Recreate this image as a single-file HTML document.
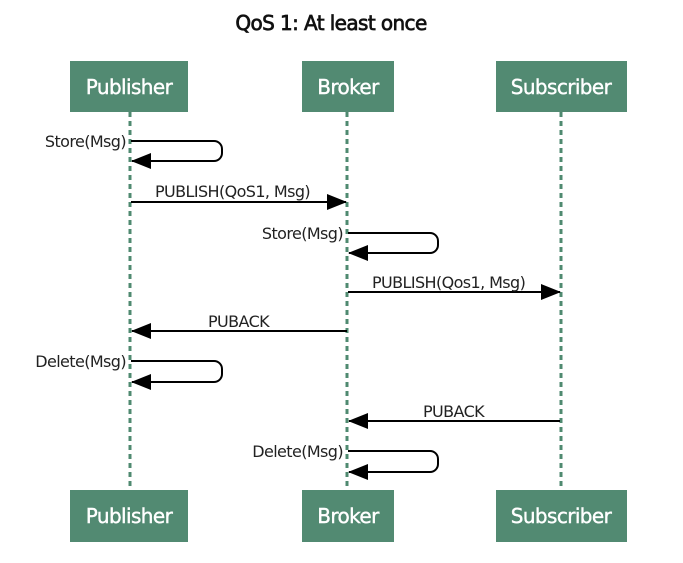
<!DOCTYPE html>
<html><head><style>body{margin:0;background:#fff}</style></head><body>
<svg width="683" height="558" xmlns="http://www.w3.org/2000/svg" font-family="DejaVu Sans, Liberation Sans, sans-serif">
<defs><marker id="a" markerWidth="20" markerHeight="16" refX="19" refY="8" orient="auto" markerUnits="userSpaceOnUse"><path d="M0,0 L20,8 L0,16 z" fill="#000"/></marker></defs>
<text x="331" y="30" font-size="20" text-anchor="middle" fill="#111" stroke="#111" stroke-width="0.7" letter-spacing="-0.6">QoS 1: At least once</text>
<g stroke="#4f8a70" stroke-width="3" stroke-dasharray="5,4">
<line x1="130" y1="112" x2="130" y2="490"/><line x1="347" y1="112" x2="347" y2="490"/><line x1="561" y1="112" x2="561" y2="490"/></g>
<g fill="#528a72">
<rect x="70" y="61" width="118" height="51"/><rect x="302" y="61" width="92" height="51"/><rect x="496" y="61" width="131" height="51"/>
<rect x="70" y="490" width="118" height="52"/><rect x="302" y="490" width="92" height="52"/><rect x="496" y="490" width="131" height="52"/></g>
<g fill="#fff" font-size="20" text-anchor="middle" letter-spacing="-0.6" stroke="#fff" stroke-width="0.4">
<text x="129" y="94">Publisher</text><text x="348" y="94">Broker</text><text x="561" y="94">Subscriber</text>
<text x="129" y="523">Publisher</text><text x="348" y="523">Broker</text><text x="561" y="523">Subscriber</text></g>
<g stroke="#000" stroke-width="2" fill="none">
<path d="M131,141 H214 a8,8 0 0 1 8,8 v4 a8,8 0 0 1 -8,8 H132" marker-end="url(#a)"/>
<line x1="131" y1="202" x2="346" y2="202" marker-end="url(#a)"/>
<path d="M348,233 H430 a8,8 0 0 1 8,8 v4 a8,8 0 0 1 -8,8 H349" marker-end="url(#a)"/>
<line x1="348" y1="292" x2="560" y2="292" marker-end="url(#a)"/>
<line x1="347" y1="331" x2="132" y2="331" marker-end="url(#a)"/>
<path d="M131,361 H214 a8,8 0 0 1 8,8 v5 a8,8 0 0 1 -8,8 H132" marker-end="url(#a)"/>
<line x1="560" y1="421" x2="349" y2="421" marker-end="url(#a)"/>
<path d="M348,451 H430 a8,8 0 0 1 8,8 v5 a8,8 0 0 1 -8,8 H349" marker-end="url(#a)"/></g>
<g font-size="16" fill="#222" letter-spacing="-0.6">
<text x="126" y="147" text-anchor="end">Store(Msg)</text>
<text x="155" y="197">PUBLISH(QoS1, Msg)</text>
<text x="343" y="239" text-anchor="end">Store(Msg)</text>
<text x="372" y="288">PUBLISH(Qos1, Msg)</text>
<text x="208" y="327">PUBACK</text>
<text x="126" y="367" text-anchor="end">Delete(Msg)</text>
<text x="423" y="417">PUBACK</text>
<text x="343" y="457" text-anchor="end">Delete(Msg)</text></g>
</svg>
</body></html>
